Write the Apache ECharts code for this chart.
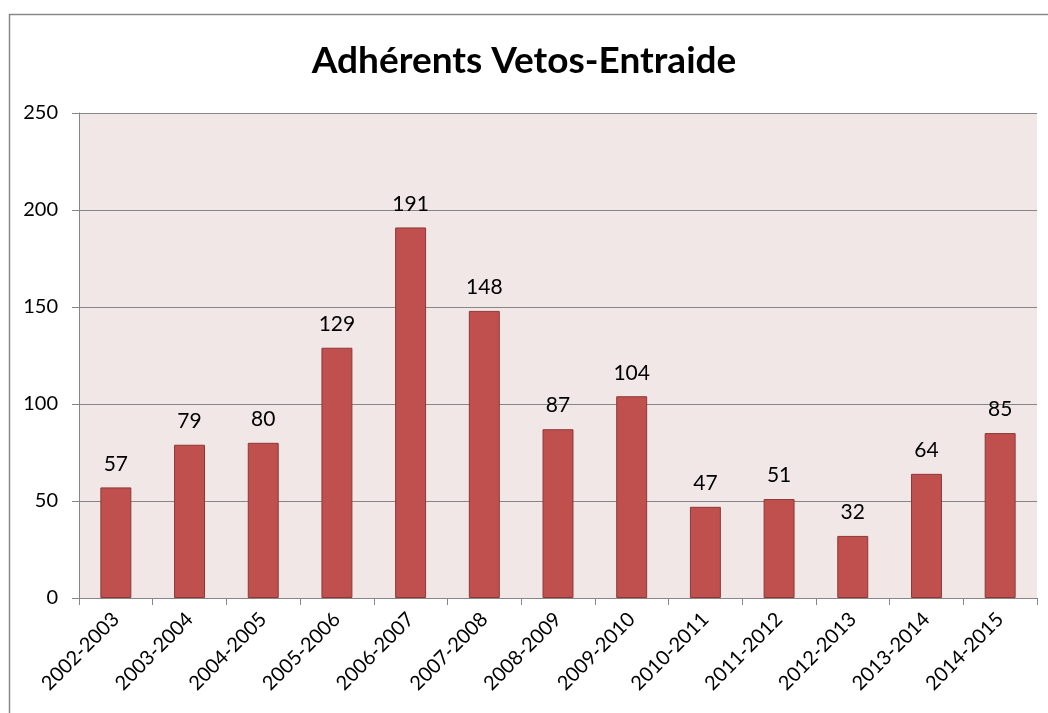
<!DOCTYPE html>
<html>
<head>
<meta charset="UTF-8">
<title>Adhérents Vetos-Entraide</title>
<style>
    html, body { margin: 0; padding: 0; background: #fff; }
    #chartArea { width: 1048px; height: 713px; }
</style>
</head>
<body>
<div id="chartArea"></div>
<script src="https://cdn.jsdelivr.net/npm/echarts@6/dist/echarts.min.js"></script>
<script>
var seasons = ['2002-2003', '2003-2004', '2004-2005', '2005-2006', '2006-2007', '2007-2008',
    '2008-2009', '2009-2010', '2010-2011', '2011-2012', '2012-2013', '2013-2014', '2014-2015'];
var members = [57, 79, 80, 129, 191, 148, 87, 104, 47, 51, 32, 64, 85];
var yTicks = [0, 50, 100, 150, 200, 250];

var myChart = echarts.init(document.getElementById('chartArea'));
myChart.setOption({
    animation: false,
    textStyle: { fontFamily: 'Lato' },
    title: {
        text: 'Adhérents Vetos-Entraide',
        left: 'center',
        top: 38,
        textStyle: { fontSize: 37, fontWeight: 'bold', color: '#000', fontFamily: 'Lato' }
    },
    graphic: [{
        type: 'rect',
        shape: { x: 9.5, y: 14.5, width: 1200, height: 900 },
        style: { fill: 'none', stroke: '#888', lineWidth: 1.5 },
        silent: true
    }],
    grid: { left: 79, right: 11, top: 113, bottom: 115, show: true, backgroundColor: '#f2e7e7', borderWidth: 0 },
    xAxis: {
        type: 'category',
        data: seasons,
        axisLine: { lineStyle: { color: '#868686' } },
        axisTick: { show: true, length: 7, lineStyle: { color: '#868686' } },
        axisLabel: { rotate: 45, fontSize: 20, color: '#000', margin: 18, interval: 0 }
    },
    yAxis: {
        type: 'value',
        min: yTicks[0],
        max: yTicks[yTicks.length - 1],
        interval: 50,
        axisLine: { show: true, lineStyle: { color: '#868686' } },
        axisTick: { show: true, length: 7, lineStyle: { color: '#868686' } },
        axisLabel: { fontSize: 20, color: '#000', margin: 21 },
        splitLine: { lineStyle: { color: '#868686' } }
    },
    series: [{
        type: 'bar',
        data: members,
        barWidth: '42%',
        itemStyle: { color: '#c0504d', borderColor: '#8c3836', borderWidth: 1 },
        label: { show: true, position: 'top', distance: 13, fontSize: 21, color: '#000' }
    }]
});
</script>
</body>
</html>
